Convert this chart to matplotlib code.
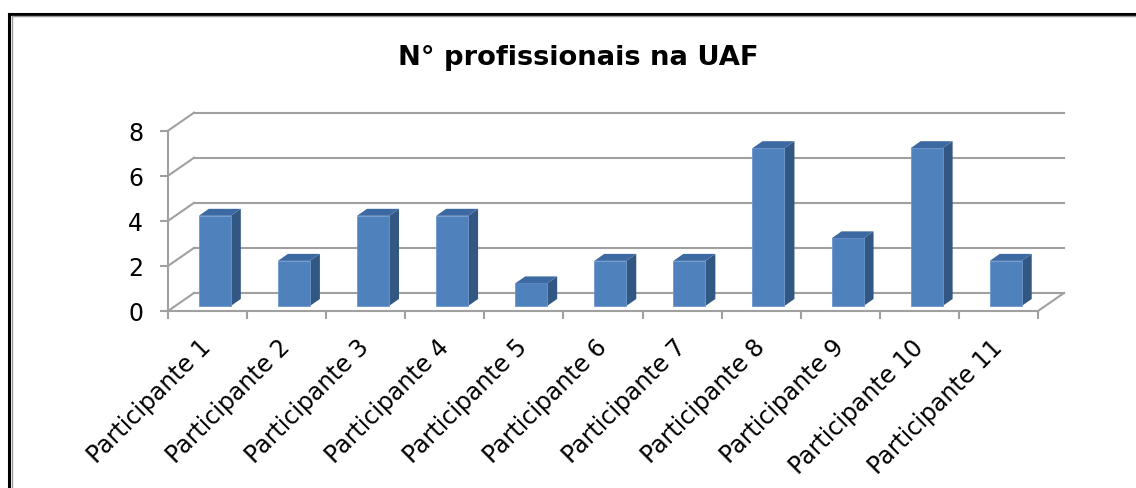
import numpy as np
from matplotlib import pyplot as plt
from matplotlib.lines import Line2D

# data
categories = [f'Participante {i}' for i in range(1, 12)]
values = [4, 2, 4, 4, 1, 2, 2, 7, 3, 7, 2]
yticks = [0, 2, 4, 6, 8]
title = 'N° profissionais na UAF'

W, H = 1136, 489
grid_col = '#a0a0a0'
front_col = '#4f81bd'
side_col = '#335783'
top_col = '#3d69a3'

# fake 3d geometry (data units)
wall_dx = 0.329   # depth offset of back wall in x
wall_dy = 0.80    # depth offset of back wall in y
bar_d0 = 0.28     # depth of bar front face (fraction of full depth)
bar_dx = 0.126    # bar thickness in x
bar_dy = 0.31     # bar thickness in y
bar_w = 0.405

plt.rcParams['font.family'] = 'DejaVu Sans'

fig = plt.figure(figsize=(W/100, H/100), dpi=100)
ax = fig.add_axes([168/W, 1-312/H, 870/W, (312-131.7)/H])
ax.set_xlim(-0.5, len(values)-0.5)
ax.set_ylim(0, 8)

x = np.arange(len(values))
ox0 = bar_d0*wall_dx
oy0 = bar_d0*wall_dy

# back wall + side wall gridlines
for v in yticks:
    ax.plot([-0.5+wall_dx, len(values)-0.5+wall_dx], [v+wall_dy, v+wall_dy],
            color=grid_col, lw=1.5, clip_on=False, zorder=1)
    ax.plot([-0.5, -0.5+wall_dx], [v, v+wall_dy], color=grid_col, lw=1.5,
            clip_on=False, zorder=1)
# floor right edge
ax.plot([len(values)-0.5, len(values)-0.5+wall_dx], [0, wall_dy],
        color=grid_col, lw=1.5, clip_on=False, zorder=1)

# bars: front face
ax.bar(x+ox0, values, width=bar_w, bottom=oy0, color=front_col,
       edgecolor='#6e97cc', linewidth=0.6, zorder=3, clip_on=False)
# side and top faces
for xi, v in zip(x, values):
    xl = xi + ox0 - bar_w/2
    xr = xi + ox0 + bar_w/2
    yt = v + oy0
    ax.fill([xr, xr+bar_dx, xr+bar_dx, xr], [oy0, oy0+bar_dy, yt+bar_dy, yt],
            color=side_col, lw=0, zorder=2, clip_on=False)
    ax.fill([xl, xr, xr+bar_dx, xl+bar_dx], [yt, yt, yt+bar_dy, yt+bar_dy],
            color=top_col, lw=0, zorder=4, clip_on=False)

# axes
for s in ['top', 'right']:
    ax.spines[s].set_visible(False)
for s in ['left', 'bottom']:
    ax.spines[s].set_color(grid_col)
    ax.spines[s].set_linewidth(1.5)
ax.set_yticks(yticks)
ax.set_yticklabels([str(t) for t in yticks])
ax.tick_params(axis='y', direction='out', length=5.8, width=1.5, color=grid_col,
               labelsize=17, pad=12)
ax.set_xticks(np.arange(-0.5, len(values)), minor=False)
ax.set_xticklabels([])
ax.set_xticks(x, minor=True)
ax.set_xticklabels(categories, minor=True, rotation=45, ha='right', va='center',
                   rotation_mode='anchor', fontsize=17)
ax.tick_params(axis='x', which='major', direction='out', length=5.5, width=1.5,
               color=grid_col)
ax.tick_params(axis='x', which='minor', length=0, pad=23)
ax.patch.set_visible(False)

# title
fig.text(578.5/W, 1-65/H, title, ha='center', va='baseline', fontsize=19.7,
         fontweight='bold')

# outer frame (black + gray inner line)
fig.add_artist(Line2D([8.5/W, 8.5/W], [0, 1-14.5/H], color='black', lw=2.2,
                      transform=fig.transFigure))
fig.add_artist(Line2D([8.5/W, 1], [1-14.5/H, 1-14.5/H], color='black', lw=2.2,
                      transform=fig.transFigure))
fig.add_artist(Line2D([12/W, 12/W], [0, 1-17/H], color='#999999', lw=1.0,
                      transform=fig.transFigure))
fig.add_artist(Line2D([12/W, 1], [1-17/H, 1-17/H], color='#999999', lw=1.0,
                      transform=fig.transFigure))

fig.savefig('out.png', dpi=100)
